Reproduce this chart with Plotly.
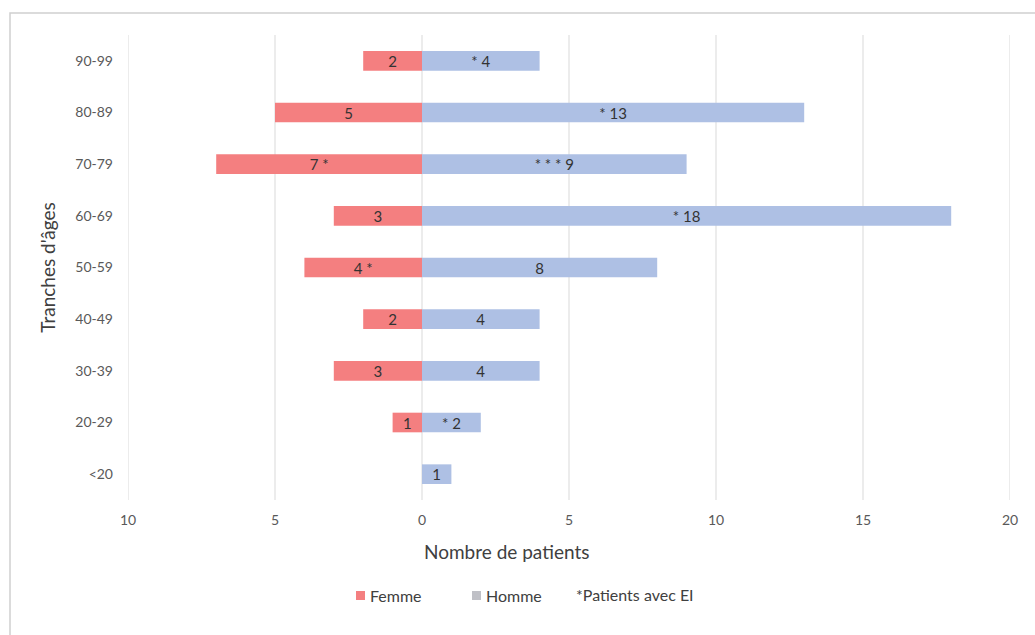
import plotly.graph_objects as go

# Age bands, bottom to top
tranches = ["<20", "20-29", "30-39", "40-49", "50-59", "60-69", "70-79", "80-89", "90-99"]

# Number of patients per age band
femme = [0, 1, 3, 2, 4, 3, 7, 5, 2]
homme = [1, 2, 4, 4, 8, 18, 9, 13, 4]

# Patients with adverse events (shown as asterisks next to the counts)
femme_ei = [0, 0, 0, 0, 1, 0, 1, 0, 0]
homme_ei = [0, 1, 0, 0, 0, 1, 3, 1, 1]

x_ticks = [-10, -5, 0, 5, 10, 15, 20]
x_ticktext = ["10", "5", "0", "5", "10", "15", "20"]

FEMME_COLOR = "#F47F80"
HOMME_COLOR = "#AEC0E4"
HOMME_KEY = "#BFC0C6"
TEXT_COLOR = "#404040"
AXIS_TEXT = "#595959"
FONT = "Lato, 'Open Sans', sans-serif"


def label_f(n, ei):
    if n == 0:
        return ""
    return f"{n} " + " ".join(["*"] * ei) if ei else f"{n}"


def label_h(n, ei):
    return (" ".join(["*"] * ei) + f" {n}") if ei else f"{n}"


bar_text = dict(family=FONT, size=15, color="#333333")

fig = go.Figure()
fig.add_trace(go.Bar(
    y=tranches, x=[-v for v in femme], orientation="h", name="Femme",
    marker=dict(color=FEMME_COLOR, line=dict(width=0)),
    text=[label_f(n, e) for n, e in zip(femme, femme_ei)],
    textposition="inside", insidetextanchor="middle", constraintext="none",
    textangle=0, textfont=bar_text,
    hovertemplate="%{y}: %{text}<extra>Femme</extra>",
))
fig.add_trace(go.Bar(
    y=tranches, x=homme, orientation="h", name="Homme",
    marker=dict(color=HOMME_COLOR, line=dict(width=0)),
    text=[label_h(n, e) for n, e in zip(homme, homme_ei)],
    textposition="inside", insidetextanchor="middle", constraintext="none",
    textangle=0, textfont=bar_text,
    hovertemplate="%{y}: %{text}<extra>Homme</extra>",
))

L, R, T, B = 128, 25, 35, 135
W, H = 1035, 635
pw, ph = W - L - R, H - T - B


def px_x(p):
    return (p - L) / pw


def px_y(p):
    return (H - B - p) / ph


# Vertical grid lines at every major tick, edges included
grid = [dict(type="line", xref="x", yref="paper", x0=v, x1=v, y0=0, y1=1,
             line=dict(color="#D9D9D9", width=1), layer="below") for v in x_ticks]

# Legend keys drawn as small squares next to their labels
legend_keys = [
    dict(type="rect", xref="paper", yref="paper",
         x0=px_x(356), x1=px_x(365), y0=px_y(600), y1=px_y(591),
         fillcolor=FEMME_COLOR, line=dict(width=0)),
    dict(type="rect", xref="paper", yref="paper",
         x0=px_x(472), x1=px_x(481), y0=px_y(600), y1=px_y(591),
         fillcolor=HOMME_KEY, line=dict(width=0)),
]

frame = dict(type="rect", xref="paper", yref="paper",
             x0=px_x(10), x1=px_x(1045), y0=px_y(645), y1=px_y(13),
             line=dict(color="#D0D0D0", width=1.5), fillcolor="rgba(0,0,0,0)",
             layer="below")

legend_font = dict(size=16, color=TEXT_COLOR)

fig.update_layout(
    width=W, height=H,
    margin=dict(l=L, r=R, t=T, b=B),
    paper_bgcolor="white", plot_bgcolor="white",
    barmode="relative", bargap=0.62,
    font=dict(family=FONT, size=14, color=AXIS_TEXT),
    showlegend=False,
    xaxis=dict(
        range=[-10, 20], tickvals=x_ticks, ticktext=x_ticktext,
        showgrid=False, zeroline=False, showline=False, ticks="",
        tickfont=dict(size=14, color=AXIS_TEXT),
        ticklabelstandoff=10,
    ),
    yaxis=dict(
        categoryorder="array", categoryarray=tranches,
        showgrid=False, zeroline=False, showline=False, ticks="",
        tickfont=dict(size=14, color=AXIS_TEXT),
        ticklabelstandoff=14,
        title=dict(text="Tranches d'âges", font=dict(size=19, color=TEXT_COLOR), standoff=14),
    ),
    annotations=[
        dict(text="Nombre de patients", xref="paper", yref="paper",
             x=px_x(506), y=px_y(551), xanchor="center", yanchor="middle",
             showarrow=False, font=dict(size=19, color=TEXT_COLOR)),
        dict(text="Femme", xref="paper", yref="paper",
             x=px_x(368), y=px_y(595), xanchor="left", yanchor="middle",
             showarrow=False, font=legend_font),
        dict(text="Homme", xref="paper", yref="paper",
             x=px_x(484), y=px_y(595), xanchor="left", yanchor="middle",
             showarrow=False, font=legend_font),
        dict(text="*Patients avec EI", xref="paper", yref="paper",
             x=px_x(574), y=px_y(594), xanchor="left", yanchor="middle",
             showarrow=False, font=legend_font),
    ],
    shapes=[frame] + grid + legend_keys,
)

fig.write_html("out.html")
